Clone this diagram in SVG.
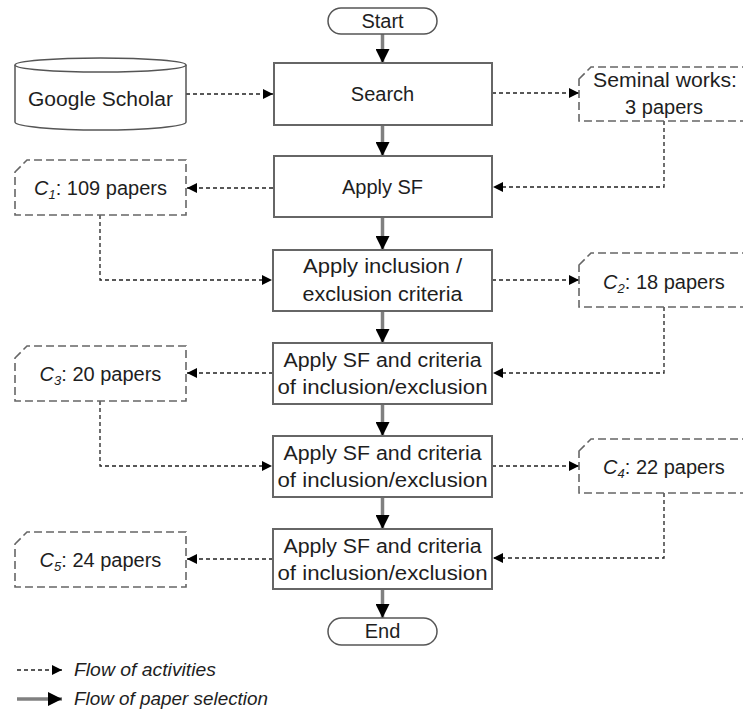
<svg xmlns="http://www.w3.org/2000/svg" width="743" height="711" viewBox="0 0 743 711">
  <style>
    text { font-family: "Liberation Sans", Arial, sans-serif; font-size: 20px; fill: #1e1e1e; }
    .c { text-anchor: middle; }
    .it { font-style: italic; }
    .proc { fill: #fff; stroke: #666; stroke-width: 2; }
    .term { fill: #fff; stroke: #555; stroke-width: 1.5; }
    .data { fill: #fff; stroke: #666; stroke-width: 1.6; stroke-dasharray: 8 4; }
    .act { fill: none; stroke: #222; stroke-width: 1.3; stroke-dasharray: 4 3; }
    .sel { fill: none; stroke: #808080; stroke-width: 3.5; }
    .leg { font-size: 18px; font-style: italic; }
  </style>
  <defs>
    <marker id="headAct" viewBox="0 0 10 10" refX="10" refY="5" markerWidth="10" markerHeight="10" markerUnits="userSpaceOnUse" orient="auto">
      <path d="M0,0 L10,5 L0,10 Z" fill="#000"/>
    </marker>
    <marker id="headSel" viewBox="0 0 14 14" refX="14" refY="7" markerWidth="14" markerHeight="14" markerUnits="userSpaceOnUse" orient="auto">
      <path d="M0,0 L14,7 L0,14 Z" fill="#000"/>
    </marker>
  </defs>

  <!-- connectors -->
  <g id="connectors">
    <!-- main selection flow -->
    <path class="sel" d="M382.5,34 V63" marker-end="url(#headSel)"/>
    <path class="sel" d="M382.5,125 V156" marker-end="url(#headSel)"/>
    <path class="sel" d="M382.5,217 V250" marker-end="url(#headSel)"/>
    <path class="sel" d="M382.5,311 V343" marker-end="url(#headSel)"/>
    <path class="sel" d="M382.5,404 V436" marker-end="url(#headSel)"/>
    <path class="sel" d="M382.5,497 V529" marker-end="url(#headSel)"/>
    <path class="sel" d="M382.5,589 V618" marker-end="url(#headSel)"/>
    <!-- activity flow -->
    <path class="act" d="M186,94 H273" marker-end="url(#headAct)"/>
    <path class="act" d="M492,93 H579" marker-end="url(#headAct)"/>
    <path class="act" d="M664,121 V187 H493" marker-end="url(#headAct)"/>
    <path class="act" d="M273,188 H187" marker-end="url(#headAct)"/>
    <path class="act" d="M100,215 V280 H272" marker-end="url(#headAct)"/>
    <path class="act" d="M492,280 H579" marker-end="url(#headAct)"/>
    <path class="act" d="M664,307 V373 H493" marker-end="url(#headAct)"/>
    <path class="act" d="M273,373 H187" marker-end="url(#headAct)"/>
    <path class="act" d="M100,401 V466 H272" marker-end="url(#headAct)"/>
    <path class="act" d="M492,466 H579" marker-end="url(#headAct)"/>
    <path class="act" d="M664,493 V558 H493" marker-end="url(#headAct)"/>
    <path class="act" d="M273,559 H187" marker-end="url(#headAct)"/>
  </g>

  <g id="start">
    <rect class="term" x="328" y="8" width="109" height="26" rx="13"/>
    <text class="c" x="382.5" y="28">Start</text>
  </g>

  <g id="google-scholar">
    <path class="term" d="M15,65 V122 A85.5,8 0 0 0 186,122 V65"/>
    <ellipse class="term" cx="100.5" cy="65" rx="85.5" ry="7"/>
    <text class="c" x="100.5" y="106" textLength="145" lengthAdjust="spacingAndGlyphs">Google Scholar</text>
  </g>

  <g id="search">
    <rect class="proc" x="274" y="63" width="218" height="62"/>
    <text class="c" x="382.5" y="101">Search</text>
  </g>

  <g id="seminal">
    <path class="data" d="M579,79 L591,67 H760 V121 H579 Z"/>
    <text class="c" x="665" y="87" textLength="144" lengthAdjust="spacingAndGlyphs">Seminal works:</text>
    <text class="c" x="664" y="114">3 papers</text>
  </g>

  <g id="apply-sf">
    <rect class="proc" x="274" y="156" width="218" height="61"/>
    <text class="c" x="382.5" y="194">Apply SF</text>
  </g>

  <g id="c1">
    <path class="data" d="M15,172 L27,160 H186 V215 H15 Z"/>
    <text class="c" x="100.5" y="195"><tspan class="it">C</tspan><tspan class="it" font-size="13" dy="4">1</tspan><tspan dy="-4">: 109 papers</tspan></text>
  </g>

  <g id="apply-inclusion">
    <rect class="proc" x="273" y="250" width="219" height="61"/>
    <text class="c" x="382.5" y="273" textLength="159" lengthAdjust="spacingAndGlyphs">Apply inclusion /</text>
    <text class="c" x="382.5" y="301" textLength="160" lengthAdjust="spacingAndGlyphs">exclusion criteria</text>
  </g>

  <g id="c2">
    <path class="data" d="M579,265 L591,253 H760 V307 H579 Z"/>
    <text class="c" x="664" y="289"><tspan class="it">C</tspan><tspan class="it" font-size="13" dy="4">2</tspan><tspan dy="-4">: 18 papers</tspan></text>
  </g>

  <g id="apply-sf-criteria-1">
    <rect class="proc" x="273" y="343" width="219" height="61"/>
    <text class="c" x="382.5" y="367" textLength="198" lengthAdjust="spacingAndGlyphs">Apply SF and criteria</text>
    <text class="c" x="382.5" y="394" textLength="210" lengthAdjust="spacingAndGlyphs">of inclusion/exclusion</text>
  </g>

  <g id="c3">
    <path class="data" d="M15,358 L27,346 H186 V401 H15 Z"/>
    <text class="c" x="100.5" y="381"><tspan class="it">C</tspan><tspan class="it" font-size="13" dy="4">3</tspan><tspan dy="-4">: 20 papers</tspan></text>
  </g>

  <g id="apply-sf-criteria-2">
    <rect class="proc" x="273" y="436" width="219" height="61"/>
    <text class="c" x="382.5" y="460" textLength="198" lengthAdjust="spacingAndGlyphs">Apply SF and criteria</text>
    <text class="c" x="382.5" y="487" textLength="210" lengthAdjust="spacingAndGlyphs">of inclusion/exclusion</text>
  </g>

  <g id="c4">
    <path class="data" d="M579,451 L591,439 H760 V493 H579 Z"/>
    <text class="c" x="664" y="474"><tspan class="it">C</tspan><tspan class="it" font-size="13" dy="4">4</tspan><tspan dy="-4">: 22 papers</tspan></text>
  </g>

  <g id="apply-sf-criteria-3">
    <rect class="proc" x="273" y="529" width="219" height="60"/>
    <text class="c" x="382.5" y="553" textLength="198" lengthAdjust="spacingAndGlyphs">Apply SF and criteria</text>
    <text class="c" x="382.5" y="580" textLength="210" lengthAdjust="spacingAndGlyphs">of inclusion/exclusion</text>
  </g>

  <g id="c5">
    <path class="data" d="M15,544 L27,532 H186 V587 H15 Z"/>
    <text class="c" x="100.5" y="567"><tspan class="it">C</tspan><tspan class="it" font-size="13" dy="4">5</tspan><tspan dy="-4">: 24 papers</tspan></text>
  </g>

  <g id="end">
    <rect class="term" x="328" y="618" width="109" height="27" rx="13.5"/>
    <text class="c" x="382.5" y="638">End</text>
  </g>

  <!-- legend -->
  <g id="legend">
    <path class="act" d="M17,670 H62" marker-end="url(#headAct)"/>
    <text class="leg" x="74" y="676" textLength="142" lengthAdjust="spacingAndGlyphs">Flow of activities</text>
    <path class="sel" d="M17,699 H62" marker-end="url(#headSel)"/>
    <text class="leg" x="74" y="705" textLength="194" lengthAdjust="spacingAndGlyphs">Flow of paper selection</text>
  </g>
</svg>
